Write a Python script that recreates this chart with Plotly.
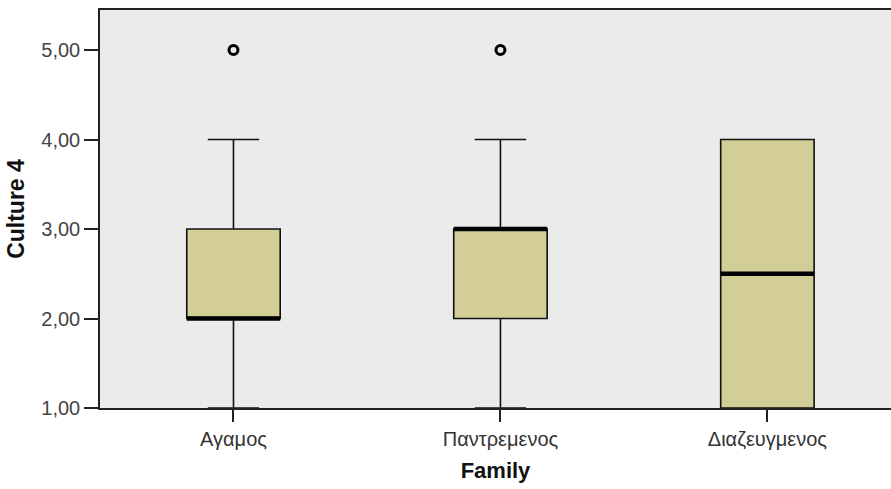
import plotly.graph_objects as go

# Summary statistics per group
categories = ["Αγαμος", "Παντρεμενος", "Διαζευγμενος"]
q1 = [2.0, 2.0, 1.0]
median = [2.0, 3.0, 2.5]
q3 = [3.0, 3.0, 4.0]
lower_fence = [1.0, 1.0, 1.0]
upper_fence = [4.0, 4.0, 4.0]
outlier_x = ["Αγαμος", "Παντρεμενος"]
outlier_y = [5.0, 5.0]

y_ticks = [1, 2, 3, 4, 5]

BOX_W = 0.35
FILL = "#D3CE97"
BG = "#EBEBEB"

fig = go.Figure()

fig.add_trace(go.Box(
    x=categories,
    q1=q1, median=median, q3=q3,
    lowerfence=lower_fence, upperfence=upper_fence,
    width=BOX_W, whiskerwidth=0.55,
    fillcolor=FILL,
    line=dict(color="#111111", width=1.6),
    boxpoints=False,
    showlegend=False,
    hoverinfo="skip",
))

# Thick median bars drawn across each box
for i, (c, m) in enumerate(zip(categories, median)):
    fig.add_trace(go.Scatter(
        x=[i - BOX_W / 2, i + BOX_W / 2], y=[m, m],
        mode="lines", line=dict(color="black", width=4.5),
        xaxis="x2", showlegend=False, hoverinfo="skip",
    ))

# Outliers as open circles
fig.add_trace(go.Scatter(
    x=outlier_x, y=outlier_y, mode="markers",
    marker=dict(symbol="circle-open", size=9, color="black",
                line=dict(width=3, color="black")),
    showlegend=False, hoverinfo="skip",
))

x_range = [-0.5, 2.463]

fig.update_layout(
    width=891, height=489,
    margin=dict(l=100, r=0, t=10, b=81),
    paper_bgcolor="white",
    plot_bgcolor=BG,
    separators=",.",
    font=dict(family="Liberation Sans, Arial, sans-serif", size=21, color="#333333"),
    xaxis=dict(
        type="category", range=x_range,
        showgrid=False, zeroline=False,
        showline=True, linecolor="#222222", linewidth=1.5, mirror=True,
        ticks="outside", ticklen=12, tickwidth=1.5, tickcolor="#222222",
        tickfont=dict(size=20, color="#333333"),
        title=dict(text="<b>Family</b>", standoff=14,
                   font=dict(size=22, color="#111111")),
    ),
    xaxis2=dict(
        overlaying="x", range=x_range, visible=False,
    ),
    yaxis=dict(
        range=[1, 5.447],
        tickvals=y_ticks, tickformat=".2f",
        showgrid=False, zeroline=False,
        showline=True, linecolor="#222222", linewidth=1.5,
        ticks="outside", ticklen=14, tickwidth=1.5, tickcolor="#222222",
        tickfont=dict(size=20, color="#444444"),
        title=dict(text="<b>Culture 4</b>", standoff=10,
                   font=dict(size=23, color="#111111")),
    ),
)

fig.write_html("out.html")
